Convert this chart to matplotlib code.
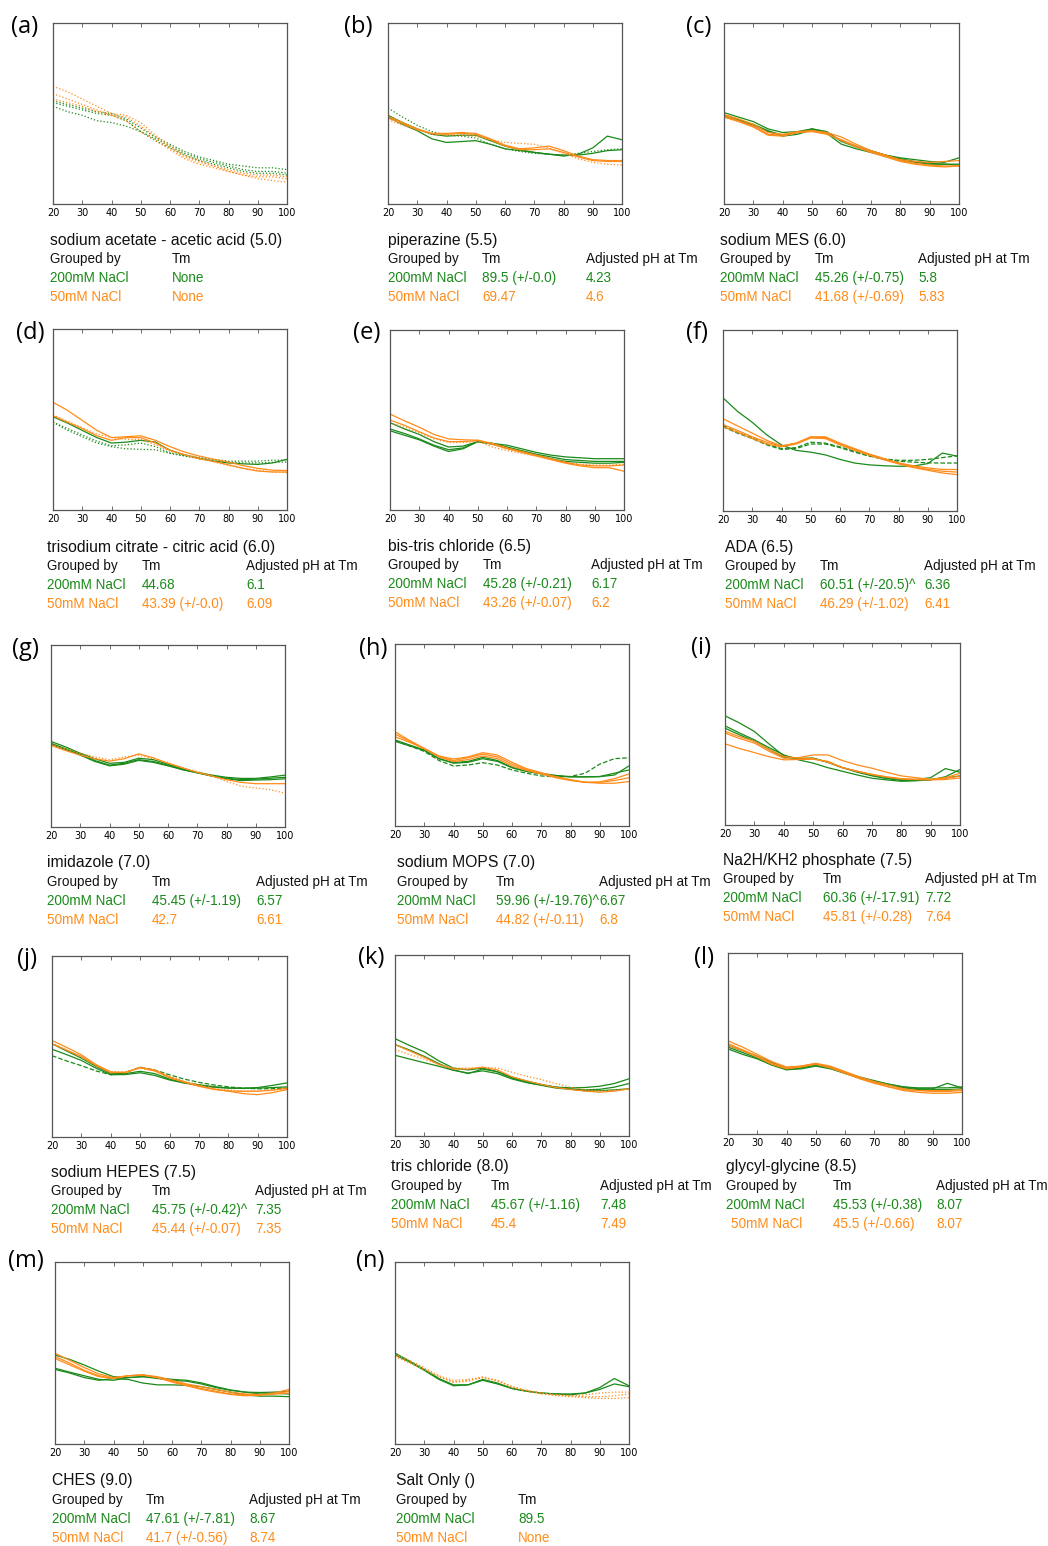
import matplotlib
matplotlib.use("Agg")
import matplotlib.pyplot as plt

W, H = 1048, 1546
GREEN = "#1a8a1a"
ORANGE = "#ff8c1a"

temps = [20, 25, 30, 35, 40, 45, 50, 55, 60, 65, 70, 75, 80, 85, 90, 95, 100]

# melt curves, % of axis height, one row per replicate
a_200 = [[57, 55, 53, 51, 50, 47, 42, 37, 33, 29, 26, 24, 22, 21, 20, 20, 19],
         [56, 54, 52, 50, 49, 46, 40, 36, 32, 28, 25, 23, 21, 19, 18, 18, 17],
         [54, 51, 49, 46, 45, 43, 40, 35, 31, 27, 24, 22, 20, 18, 17, 17, 16]]
a_50 = [[65, 62, 58, 54, 50, 49, 45, 38, 32, 27, 24, 21, 19, 17, 16, 16, 15],
        [61, 58, 55, 52, 49, 48, 43, 37, 31, 26, 23, 21, 18, 16, 15, 15, 14],
        [58, 56, 54, 51, 49, 46, 40, 35, 30, 25, 22, 20, 18, 16, 14, 13, 12]]

b_200 = [[49, 45, 41.5, 38.5, 37.5, 38, 38, 35, 32, 30, 28.5, 27.5, 26.5, 27.5, 31, 37.5, 35.5],
         [48, 44, 40.5, 36, 34, 34.5, 35, 33, 30.5, 29.5, 28.5, 27.5, 27, 27, 28, 29.5, 30],
         [53, 48, 43.5, 40, 38, 37.5, 36.5, 33, 30.5, 29, 28, 27.5, 27, 28, 29, 30, 30.5]]
b_50 = [[48.5, 45, 41.5, 39, 39, 39.5, 39, 36, 32.5, 30.5, 31, 32, 29.5, 26.5, 24.5, 24, 24],
        [47.5, 44.5, 41, 39, 38.5, 39, 38.5, 35.5, 32, 30, 30, 30.5, 28.5, 26, 24, 23.5, 23.5],
        [46.5, 43.5, 41, 38.5, 38, 38, 37.5, 35.5, 34, 33.5, 33, 31, 28, 25, 23, 22, 21.5]]

c_200 = [[50.5, 48, 45.5, 41.5, 39.5, 40, 41.5, 40, 34.5, 31.5, 29.5, 27, 25.5, 24.5, 23.5, 23, 25.5],
         [48.5, 46, 43.5, 40, 37.5, 38.5, 41, 39, 33, 30.5, 28.5, 26.5, 24.5, 23, 22, 22, 22],
         [49, 46.5, 44, 40.5, 38, 39.5, 41.5, 39.5, 35, 32, 29, 27, 25, 23.5, 22.5, 22, 21.5]]
c_50 = [[49.5, 47, 44, 39.5, 38.5, 40, 40.5, 39.5, 37, 33, 29.5, 27, 24.5, 23.5, 23, 23.5, 24],
        [49, 46, 43, 38.5, 38, 39.5, 40, 38.5, 35.5, 32, 29, 26.5, 24, 22.5, 21.5, 21, 21],
        [48, 45.5, 42.5, 38, 37.5, 39.5, 40.5, 39, 35, 31.5, 28.5, 26, 23.5, 22, 21, 20.5, 21]]

d_200 = [[51.5, 48, 44, 40, 37, 37.5, 38.5, 37.5, 33, 30.5, 28.5, 27, 26, 25.5, 25.2, 26, 28],
         [48.5, 45, 41.5, 38, 35.5, 36, 37, 35, 31.5, 30, 29, 28, 27, 27, 27, 27.5, 27.6],
         [48.5, 44, 40.5, 37, 35, 33.8, 33.5, 33.3, 31.3, 29.8, 28.3, 27.3, 26.5, 26, 26, 26.3, 26.5]]
d_50 = [[59.5, 55, 49.5, 44, 40, 40.5, 41, 38.5, 35, 32, 29.8, 28, 26.5, 24.5, 23, 22, 21.8],
        [52, 48.5, 45, 41, 38.5, 40, 40, 37, 33, 30.5, 28.3, 26.8, 25, 23, 21.5, 21, 21],
        [52.5, 49, 45.5, 42, 40, 39, 39, 36, 32.5, 30.5, 29, 26.5, 24.5, 23, 22, 21, 20.6]]

e_200 = [[48.5, 45, 42, 38, 35, 35.5, 38, 37, 36, 34, 32, 30.5, 29.5, 29, 28.5, 28.5, 28.5],
         [45, 42.5, 39.5, 36, 33.5, 34.5, 38, 37, 35, 33, 31, 29.5, 28, 27.5, 27, 27, 27],
         [44, 41.5, 39, 35.5, 32.5, 34, 38, 36.5, 34.5, 32.5, 30.5, 28.5, 27, 26.5, 26, 26, 26.5]]
e_50 = [[53.3, 49.5, 46, 42, 39.5, 39, 38.8, 37, 34.5, 32.5, 30.5, 28.5, 26.5, 25, 24.5, 24.5, 25],
        [50, 47, 43.5, 40, 38, 38, 38.6, 36.5, 34, 32, 30, 28, 26, 24.5, 23.5, 23.5, 21.5],
        [48.5, 46, 43, 39.5, 37.5, 37.5, 38, 35, 33, 31.5, 30, 28, 26.5, 25.5, 25, 25, 25.5]]

f_200 = [[62.5, 55, 49, 42, 36.5, 33.5, 32.5, 31, 28.5, 26.5, 25.5, 25, 24.7, 24.8, 26.2, 32, 30.3],
         [47.2, 43.5, 40.4, 37, 34.5, 35, 38, 37.5, 35.4, 33, 30.5, 28.5, 27.5, 27, 26.6, 26.5, 26.5],
         [46.5, 43, 40, 36.5, 34, 34.5, 37, 37, 35, 32.5, 30.3, 28.8, 28, 28, 28.5, 29.5, 30.5]]
f_50 = [[51, 47, 43, 39, 36, 37.5, 40.8, 40.5, 37, 34, 31.2, 28.8, 26.6, 25, 23.8, 23, 22.9],
        [47.8, 44.5, 41, 38, 35.8, 37.5, 41, 41, 37.5, 34.5, 31.5, 29, 26.5, 24.5, 23, 22, 21.5],
        [46.5, 43.5, 40, 37, 35.5, 37, 40.3, 40, 36.5, 33.5, 30.8, 28.3, 26, 24, 22.5, 21, 20.1]]

g_200 = [[47, 44, 40.5, 37.5, 35, 35.5, 37.8, 37, 34.5, 32, 30, 28.5, 27.3, 26.7, 26.7, 27.5, 28.5],
         [46, 43, 40, 36.5, 34, 35, 37, 36, 34, 31.5, 29.8, 28, 26.8, 26, 26.3, 26.8, 27.3],
         [45.5, 42.5, 39.5, 36, 33.6, 34.5, 36.6, 35.5, 33.6, 31.5, 29.8, 28, 26.5, 25.5, 25.8, 26, 26.5]]
g_50 = [[44.8, 42, 39.5, 37.5, 36.2, 37.5, 40.2, 38, 35, 32.5, 30, 28, 26, 24.5, 23.8, 23.8, 23.8],
        [45.5, 43, 40.5, 38.5, 37, 38.5, 39.5, 37.5, 35.5, 32.5, 30.5, 28, 25, 22.5, 21.4, 20.5, 18.6]]

h_200 = [[47.3, 44.5, 41.8, 37, 34.8, 35.5, 37.7, 36, 32.2, 30, 28.9, 27.8, 27.1, 27, 27.1, 28, 33],
         [46.5, 44, 41.5, 37, 34.5, 35, 37, 35.5, 32, 30, 28.6, 27.5, 27, 27, 27.2, 29, 30.8],
         [47, 44, 41, 36, 33, 33.5, 34.8, 33.5, 30.8, 29, 27.5, 27, 27.2, 29, 34, 37, 37.5]]
h_50 = [[51.8, 47, 42.7, 38.5, 36.8, 38, 40.3, 39, 35, 31.5, 29.3, 27, 25.5, 24, 23.5, 23.5, 24.4],
        [50.5, 46.5, 42.5, 38, 36, 37.5, 39.5, 38, 34, 31, 29, 27, 25.2, 24, 24, 25, 26.5],
        [49, 46, 42.5, 38, 35.4, 36.5, 38.5, 37, 33, 30.5, 28.6, 26.5, 25, 24, 24.2, 26, 28.6]]

i_200 = [[60, 56, 51.4, 44.5, 38, 36.5, 36.7, 34.5, 31.5, 29.5, 27.5, 26, 25, 25, 26, 31, 29],
         [54.5, 50.5, 46.8, 42.5, 38.5, 35.8, 34, 31.5, 29.5, 27.5, 25.7, 24.8, 24, 24.3, 24.8, 26.5, 30.5],
         [53.2, 49.5, 46, 41.5, 37.2, 36.5, 36.7, 34.5, 31.5, 29, 27, 25.5, 24.5, 24.5, 25, 25.8, 27]]
i_50 = [[50.5, 47.5, 45, 40.5, 36.7, 37, 38.5, 38.5, 35.4, 33, 31.2, 29, 27, 26, 25.1, 26, 28.4],
        [44.6, 42, 39.8, 37.5, 35.8, 36, 36.1, 35, 31.5, 29.5, 27.8, 26.5, 25.5, 25, 24.8, 25, 25.8],
        [51.5, 48.5, 46, 41.5, 37.6, 36.8, 36.5, 34.5, 31.5, 29.5, 27.8, 26.3, 25.3, 25, 25, 25.8, 26.8]]

j_200 = [[51.5, 47.5, 43.6, 39, 35, 35, 36.3, 35, 32, 30, 28.9, 27.8, 27.1, 27, 27.3, 28.5, 29.9],
         [48.5, 45.5, 42.3, 38, 34.4, 34.5, 35.5, 34, 31.5, 29.8, 28.5, 27.5, 27, 26.8, 27, 27.3, 27.7],
         [44.9, 42, 39.4, 36.5, 34.4, 35.5, 38.6, 37, 34.4, 32, 30.2, 28.8, 27.7, 27, 26.6, 26.7, 27]]
j_50 = [[53.3, 49.5, 45.4, 40, 36, 35.5, 38.5, 37, 33.2, 30.5, 28.4, 26.5, 25.3, 24, 23.4, 24.5, 26.2],
        [51.5, 48, 44.5, 39.5, 35.5, 35.8, 38.2, 36.5, 32.7, 30.3, 28, 26.3, 25.5, 25.2, 25.3, 25.8, 27],
        [52, 48, 44, 39.5, 36, 36, 38, 36.5, 33.5, 30.8, 28.7, 27, 26, 25.5, 25.5, 26, 26.5]]

k_200 = [[53.8, 50, 46.5, 41.5, 37.5, 36.5, 37.5, 35.5, 32, 29.7, 28.2, 27, 26.6, 26.8, 27.5, 29, 31.6],
         [50.5, 47.5, 44, 40, 36.5, 34.5, 37, 35.5, 32.5, 30.3, 28.5, 27, 26, 25.5, 25.8, 27, 29],
         [44.6, 42.5, 40.5, 38.5, 36.3, 34.8, 36, 34.5, 31.5, 29.5, 28, 26.5, 25.8, 25, 25, 25.5, 26.1]]
k_50 = [[50.5, 47, 43.5, 39.5, 37, 37, 38, 36.5, 32.7, 30.5, 28.5, 26.8, 25.7, 24.8, 24.2, 24.8, 26],
        [47.7, 45, 42.5, 39.5, 37.5, 37.5, 38, 37.5, 35.2, 33, 31.2, 29, 27, 25.5, 25, 25.3, 26]]

l_200 = [[49, 46, 43, 39.5, 36.5, 37, 38.5, 37, 34, 31.5, 29.5, 27.5, 26, 25, 25, 28, 25.5],
         [48, 45, 42, 38.5, 35.5, 36, 37.5, 36, 33.5, 31, 29, 27, 25.5, 24.5, 24.5, 24.5, 25],
         [47, 44, 41.5, 38, 35.5, 36.5, 38, 36.5, 33.5, 31, 29, 27.5, 26, 25.5, 25.5, 25.5, 26]]
l_50 = [[51.5, 48, 44, 40, 37, 37.5, 39, 37.5, 34.5, 31.5, 29, 27, 25, 24, 23.5, 23.5, 24],
        [50, 46.5, 43, 39, 36.5, 37.5, 39, 37, 34, 31, 28.5, 26, 24, 23, 22.5, 22.5, 23],
        [49, 46, 42.5, 38.5, 36, 37, 38.5, 36.5, 33.5, 30.5, 28, 26, 24.5, 24, 24, 24, 24.5]]

m_200 = [[48.9, 46.5, 43.4, 40, 37, 36.5, 37, 36.5, 35.5, 35, 33.6, 31.5, 29.7, 28.5, 27.5, 27.8, 27.5],
         [41.6, 39.5, 37.5, 35.5, 35, 36.5, 37, 36, 35, 34.5, 33, 31, 29.5, 28.5, 28.3, 28.5, 29],
         [41, 39, 36.5, 35, 36, 35.5, 33.5, 32.5, 32.5, 32.2, 31.5, 30, 28.5, 27, 26.3, 26.3, 26]]
m_50 = [[49.8, 46, 42, 38.5, 36.5, 37.5, 38, 37, 35, 33, 31.5, 30, 28.5, 27.5, 27.2, 27.5, 29],
        [48, 44.5, 40.5, 37.5, 36, 37.5, 38, 36.5, 34.5, 32.5, 30.5, 29, 27.5, 27, 27, 28, 30],
        [47, 43.5, 40, 37, 36, 37.5, 37.8, 36.5, 34, 32, 30, 28.5, 27.2, 26.5, 26.8, 27.5, 28]]

n_200 = [[50, 45.5, 41, 36, 32.5, 32.5, 35.5, 33.5, 30.5, 29, 28, 27.5, 27, 28, 31, 36, 32],
         [49, 45, 40.5, 35.5, 32, 32.5, 35, 33, 30.5, 29, 28, 27.5, 27.5, 28, 30, 33, 31.5]]
n_50 = [[49.5, 46, 42, 37.5, 35, 35.5, 36.5, 35, 31.5, 29.5, 28, 27, 26.5, 26, 26, 26.5, 27.5],
        [48.5, 45, 41, 37, 34, 35, 37, 34.5, 31, 29, 27.5, 26.5, 26, 25.5, 25, 25, 25.5],
        [48, 44.5, 41, 37, 34, 34.5, 36.5, 35, 31.5, 29.5, 28, 27, 26.5, 27, 28, 28.5, 28.5]]

buffers = ["sodium acetate - acetic acid (5.0)", "piperazine (5.5)", "sodium MES (6.0)",
           "trisodium citrate - citric acid (6.0)", "bis-tris chloride (6.5)", "ADA (6.5)",
           "imidazole (7.0)", "sodium MOPS (7.0)", "Na2H/KH2 phosphate (7.5)",
           "sodium HEPES (7.5)", "tris chloride (8.0)", "glycyl-glycine (8.5)",
           "CHES (9.0)", "Salt Only ()"]
tm_200 = ["None", "89.5 (+/-0.0)", "45.26 (+/-0.75)", "44.68", "45.28 (+/-0.21)",
          "60.51 (+/-20.5)^", "45.45 (+/-1.19)", "59.96 (+/-19.76)^", "60.36 (+/-17.91)",
          "45.75 (+/-0.42)^", "45.67 (+/-1.16)", "45.53 (+/-0.38)", "47.61 (+/-7.81)", "89.5"]
tm_50 = ["None", "69.47", "41.68 (+/-0.69)", "43.39 (+/-0.0)", "43.26 (+/-0.07)",
         "46.29 (+/-1.02)", "42.7", "44.82 (+/-0.11)", "45.81 (+/-0.28)",
         "45.44 (+/-0.07)", "45.4", "45.5 (+/-0.66)", "41.7 (+/-0.56)", "None"]
ph_200 = [None, "4.23", "5.8", "6.1", "6.17", "6.36", "6.57", "6.67", "7.72",
          "7.35", "7.48", "8.07", "8.67", None]
ph_50 = [None, "4.6", "5.83", "6.09", "6.2", "6.41", "6.61", "6.8", "7.64",
         "7.35", "7.49", "8.07", "8.74", None]

curves_200 = [a_200, b_200, c_200, d_200, e_200, f_200, g_200, h_200, i_200, j_200, k_200, l_200, m_200, n_200]
curves_50 = [a_50, b_50, c_50, d_50, e_50, f_50, g_50, h_50, i_50, j_50, k_50, l_50, m_50, n_50]

# line styles per replicate
ls_200 = [[":", ":", ":"], ["-", "-", ":"], ["-", "-", "-"], ["-", ":", ":"], ["-", "-", "-"],
          ["-", "--", "--"], ["-", "-", "-"], ["-", "-", "--"], ["-", "-", "-"], ["-", "-", "--"],
          ["-", "-", "-"], ["-", "-", "-"], ["-", "-", "-"], ["-", "-"]]
ls_50 = [[":", ":", ":"], ["-", "-", ":"], ["-", "-", "-"], ["-", "-", ":"], ["-", "-", ":"],
         ["-", "-", "-"], ["-", ":"], ["-", "-", "-"], ["-", "-", "-"], ["-", "-", ":"],
         ["-", ":"], ["-", "-", "-"], ["-", "-", "-"], [":", ":", ":"]]

# layout in pixels: axes box (x0, y0, x1, y1), label pos, title y, table column x
boxes = [(53, 23, 287, 204), (388, 23, 622, 204), (724, 23, 959, 204),
         (53, 329, 287, 510), (390, 330, 624, 510), (723, 330, 957, 511),
         (51, 645, 285, 827), (395, 644, 629, 826), (725, 643, 960, 825),
         (52, 956, 287, 1137), (395, 955, 629, 1136), (728, 953, 962, 1134),
         (55, 1262, 289, 1444), (395, 1262, 629, 1444)]
labels = ["(a)", "(b)", "(c)", "(d)", "(e)", "(f)", "(g)", "(h)", "(i)", "(j)", "(k)", "(l)", "(m)", "(n)"]
label_xy = [(11, 27), (344, 27), (686, 27), (16, 333), (353, 333), (686, 333),
            (12, 649), (359, 649), (691, 648), (17, 959), (358, 958), (694, 958),
            (8, 1261), (356, 1261)]
title_y = [240, 240, 240, 547, 546, 547, 863, 863, 860, 1172, 1167, 1167, 1481, 1481]
cols_x = [(50, 172, None), (388, 482, 586), (720, 815, 918), (47, 142, 246), (388, 483, 591),
          (725, 820, 924), (47, 152, 256), (397, 496, 599), (723, 823, 925), (51, 152, 255),
          (391, 491, 600), (726, 833, 936), (52, 146, 249), (396, 518, None)]

plt.rcParams["font.family"] = ["Liberation Sans", "DejaVu Sans"]
fig = plt.figure(figsize=(W / 100, H / 100), dpi=100)

TITLE_FS = 11.3
CELL_FS = 9.75


def ftext(x, y, s, **kw):
    fig.text(x / W, 1 - y / H, s, ha="left", va="center", **kw)


for p in range(len(boxes)):
    x0, y0, x1, y1 = boxes[p]
    ax = fig.add_axes([x0 / W, 1 - y1 / H, (x1 - x0) / W, (y1 - y0) / H])
    for ys, ls in zip(curves_200[p], ls_200[p]):
        ax.plot(temps, ys, color=GREEN, lw=0.9, ls=ls)
    for ys, ls in zip(curves_50[p], ls_50[p]):
        ax.plot(temps, ys, color=ORANGE, lw=0.9, ls=ls)
    ax.set_xlim(20, 100)
    ax.set_ylim(0, 100)
    ax.set_xticks([20, 30, 40, 50, 60, 70, 80, 90, 100])
    ax.set_yticks([])
    ax.tick_params(axis="x", direction="in", top=True, length=3, width=0.6,
                   labelsize=7, pad=3, color="#555555")
    for lab in ax.get_xticklabels():
        lab.set_fontfamily("DejaVu Sans")
    for sp in ax.spines.values():
        sp.set_color("#555555")
        sp.set_linewidth(0.9)

    lx, ly = label_xy[p]
    ftext(lx, ly, labels[p], fontsize=17, family=["Open Sans", "DejaVu Sans"])

    ty = title_y[p]
    c0, c1, c2 = cols_x[p]
    ftext(c0, ty, buffers[p], fontsize=TITLE_FS, color="#111111")
    ftext(c0, ty + 19, "Grouped by", fontsize=CELL_FS, color="#111111")
    ftext(c1, ty + 19, "Tm", fontsize=CELL_FS, color="#111111")
    ftext(c0, ty + 38, "200mM NaCl", fontsize=CELL_FS, color=GREEN)
    ftext(c1, ty + 38, tm_200[p], fontsize=CELL_FS, color=GREEN)
    ftext(c0 + (5 if p == 11 else 0), ty + 57, "50mM NaCl", fontsize=CELL_FS, color=ORANGE)
    ftext(c1, ty + 57, tm_50[p], fontsize=CELL_FS, color=ORANGE)
    if c2 is not None:
        ftext(c2, ty + 19, "Adjusted pH at Tm", fontsize=CELL_FS, color="#111111")
        ftext(c2, ty + 38, ph_200[p], fontsize=CELL_FS, color=GREEN)
        ftext(c2, ty + 57, ph_50[p], fontsize=CELL_FS, color=ORANGE)

fig.savefig("out.png", dpi=100)
